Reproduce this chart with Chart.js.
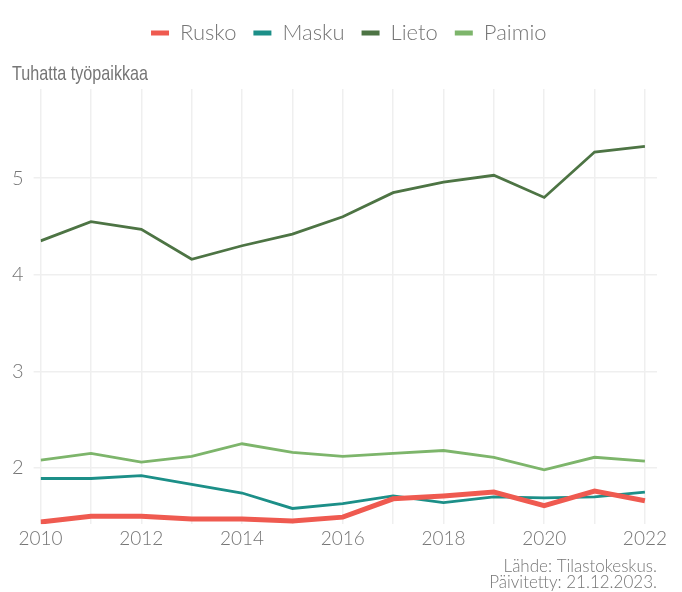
<!DOCTYPE html>
<html>
<head>
<meta charset="utf-8">
<script src="https://cdn.jsdelivr.net/npm/chart.js@4"></script>
<style>
  body { margin: 0; background: #fff; }
</style>
</head>
<body>
<canvas id="chart" width="682" height="592"></canvas>
<script>
const years = [2010, 2011, 2012, 2013, 2014, 2015, 2016, 2017, 2018, 2019, 2020, 2021, 2022];
const rusko = [1.44, 1.50, 1.50, 1.47, 1.47, 1.45, 1.49, 1.68, 1.71, 1.75, 1.61, 1.76, 1.66];
const masku = [1.89, 1.89, 1.92, 1.83, 1.74, 1.58, 1.63, 1.71, 1.64, 1.70, 1.69, 1.70, 1.75];
const lieto = [4.35, 4.55, 4.47, 4.16, 4.30, 4.42, 4.60, 4.85, 4.96, 5.03, 4.80, 5.27, 5.33];
const paimio = [2.08, 2.15, 2.06, 2.12, 2.25, 2.16, 2.12, 2.15, 2.18, 2.11, 1.98, 2.11, 2.07];
const yTicks = [2, 3, 4, 5];
const titleText = "Tuhatta työpaikkaa";
const sourceLines = ["Lähde: Tilastokeskus.", "Päivitetty: 21.12.2023."];

const textGray = "#767676";
const gridGray = "#efefef";
const lightFont = "Lato";

function toPoints(values) {
  return values.map((v, i) => ({ x: years[i], y: v }));
}

function series(label, values, color, width) {
  return {
    label: label,
    data: toPoints(values),
    borderColor: color,
    backgroundColor: color,
    borderWidth: width,
    pointRadius: 0,
    pointHoverRadius: 0,
    tension: 0,
  };
}

// narrow title and the source note, drawn by hand
const notes = {
  id: "notes",
  afterDraw(chart) {
    const ctx = chart.ctx;
    ctx.save();
    ctx.fillStyle = textGray;
    ctx.textBaseline = "alphabetic";
    ctx.textAlign = "left";
    ctx.font = "21px 'Liberation Sans'";
    ctx.translate(12, 80);
    ctx.scale(0.77, 1);
    ctx.fillText(titleText, 0, 0);
    ctx.restore();

    ctx.save();
    ctx.fillStyle = textGray;
    ctx.textBaseline = "alphabetic";
    ctx.textAlign = "right";
    ctx.font = "300 17px " + lightFont;
    ctx.fillText(sourceLines[0], chart.chartArea.right, 572);
    ctx.fillText(sourceLines[1], chart.chartArea.right, 588);
    ctx.restore();
  },
};

new Chart(document.getElementById("chart"), {
  type: "line",
  data: {
    datasets: [
      series("Rusko", rusko, "#ef5a50", 5),
      series("Masku", masku, "#1c8f88", 2.8),
      series("Lieto", lieto, "#4d7444", 2.8),
      series("Paimio", paimio, "#7db56b", 2.8),
    ],
  },
  plugins: [notes],
  options: {
    responsive: false,
    animation: false,
    devicePixelRatio: 1,
    layout: { padding: { left: 2, right: 25, top: 5, bottom: 39 } },
    plugins: {
      legend: {
        position: "top",
        fullSize: false,
        labels: {
          color: textGray,
          font: { family: lightFont, size: 22, weight: 300 },
          boxWidth: 18,
          boxHeight: 5,
          padding: 17,
          generateLabels: function (chart) {
            const items = Chart.defaults.plugins.legend.labels.generateLabels(chart);
            items.forEach((item) => {
              item.lineWidth = 0;
              item.fillStyle = item.strokeStyle;
            });
            return items;
          },
        },
      },
      title: {
        display: true,
        text: titleText,
        align: "start",
        weight: 500,
        color: "rgba(0,0,0,0)",
        font: { family: "Liberation Sans", size: 20, weight: "normal" },
        padding: { top: 7, bottom: 4 },
      },
      tooltip: { enabled: false },
    },
    scales: {
      x: {
        type: "linear",
        min: 2010,
        max: 2022.24,
        afterBuildTicks: (scale) => {
          scale.ticks = years.map((y) => ({ value: y }));
        },
        border: { display: false },
        grid: { color: gridGray, lineWidth: 1.5, drawTicks: false },
        ticks: {
          autoSkip: false,
          maxRotation: 0,
          padding: 3,
          color: textGray,
          font: { family: lightFont, size: 19, weight: 300 },
          callback: (v) => (v % 2 === 0 ? String(v) : ""),
        },
      },
      y: {
        min: 1.417,
        max: 5.923,
        afterBuildTicks: (scale) => {
          scale.ticks = yTicks.map((v) => ({ value: v }));
        },
        border: { display: false },
        grid: { color: gridGray, lineWidth: 1.5, tickLength: 7 },
        ticks: {
          padding: 10,
          color: textGray,
          font: { family: lightFont, size: 20, weight: 300 },
        },
      },
    },
  },
});
</script>
</body>
</html>
